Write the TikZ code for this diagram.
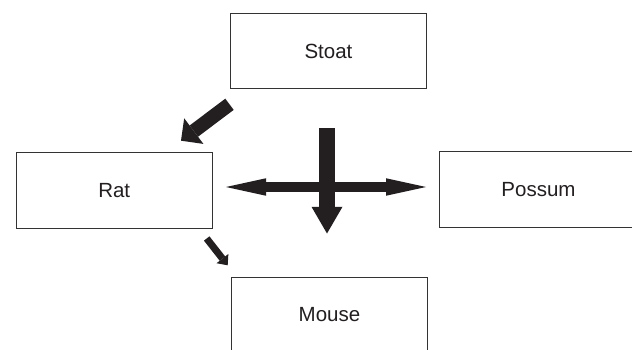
\documentclass[tikz,border=0pt]{standalone}
\usepackage{fontspec}
\setmainfont{Liberation Sans}
\usetikzlibrary{arrows.meta}
\definecolor{ink}{HTML}{231F20}
\definecolor{frame}{HTML}{333333}
\tikzset{
  animal/.style={draw=frame, line width=0.9pt, minimum width=196.5pt, minimum height=75.5pt,
    inner sep=0pt, text=ink, font=\fontsize{20.5}{24}\selectfont},
  bigarrow/.style={draw=ink, line width=14pt, -{Triangle[length=16pt,width=32pt,line width=0pt]}},
  smallarrow/.style={draw=ink, line width=7pt, -{Triangle[length=8.5pt,width=15pt,line width=0pt]}},
  downarrow/.style={draw=ink, line width=15.5pt, -{Triangle[length=26.7pt,width=31pt,line width=0pt]}},
  sidearrow/.style={draw=ink, line width=10pt, {Triangle[length=40pt,width=17.5pt,line width=0pt]}-{Triangle[length=40pt,width=17.5pt,line width=0pt]}}
}
\begin{document}
\begin{tikzpicture}[x=1pt, y=-1pt]
  \useasboundingbox (0,0) rectangle (632,350);
  \clip (0,0) rectangle (632,350);
  \fill[white] (0,0) rectangle (632,350);
  \node[animal] (stoat)  at (328.5,51)    {Stoat};
  \node[animal] (rat)    at (114.2,190.5) {Rat};
  \node[animal] (possum) at (537.5,189.5) {\hspace*{2pt}Possum};
  \node[animal] (mouse)  at (329.5,315)   {Mouse};
  \coordinate (sr1) at (229.5,104.3);
  \coordinate (sr2) at (181,140.7);
  \coordinate (rm1) at (206.7,238.5);
  \coordinate (rm2) at (227.7,265.3);
  \coordinate (vd1) at (327,128.3);
  \coordinate (vd2) at (327,233.5);
  \coordinate (hl) at (226,187);
  \coordinate (hr) at (426,187);
  \draw[bigarrow] (sr1) -- (sr2);
  \draw[smallarrow] (rm1) -- (rm2);
  \draw[sidearrow] (hl) -- (hr);
  \draw[downarrow] (vd1) -- (vd2);
\end{tikzpicture}
\end{document}
